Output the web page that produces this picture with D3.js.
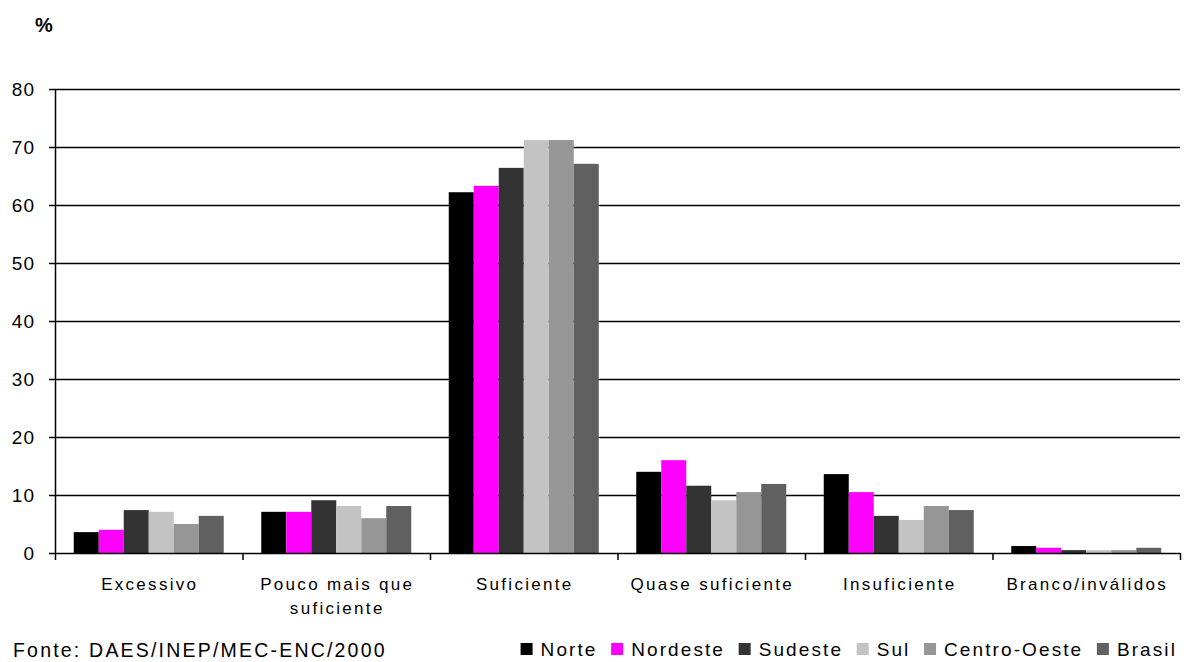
<!DOCTYPE html>
<html>
<head>
<meta charset="utf-8">
<script src="https://cdn.jsdelivr.net/npm/d3@7"></script>
<style>
  html, body { margin: 0; padding: 0; background: #fff; }
  svg { display: block; font-family: "Liberation Sans", Arial, sans-serif; }
</style>
</head>
<body>
<svg id="chart" width="1192" height="662"></svg>
<script>
// Response categories (x axis)
const categories = ["Excessivo", "Pouco mais que suficiente", "Suficiente", "Quase suficiente", "Insuficiente", "Branco/inválidos"];
// Regions (series)
const regions = ["Norte", "Nordeste", "Sudeste", "Sul", "Centro-Oeste", "Brasil"];
const regionColors = ["#000000", "#ff00ff", "#333333", "#c3c3c3", "#969696", "#606060"];
// Percentages per region, in category order
const norte       = [3.6, 7.1, 62.2, 14.0, 13.6, 1.2];
const nordeste    = [4.0, 7.1, 63.3, 16.0, 10.5, 0.9];
const sudeste     = [7.4, 9.1, 66.4, 11.6, 6.4, 0.5];
const sul         = [7.1, 8.1, 71.2, 9.1, 5.7, 0.5];
const centroOeste = [5.0, 6.0, 71.2, 10.5, 8.1, 0.5];
const brasil      = [6.4, 8.1, 67.1, 11.9, 7.4, 0.9];
const seriesValues = [norte, nordeste, sudeste, sul, centroOeste, brasil];
const yTicks = [0, 10, 20, 30, 40, 50, 60, 70, 80];
const sourceNote = "Fonte: DAES/INEP/MEC-ENC/2000";

const svg = d3.select("#chart");
const margin = { left: 55, right: 12, top: 89, bottom: 109 };
const W = 1192, H = 662;
const plotW = W - margin.left - margin.right;
const plotH = H - margin.top - margin.bottom;

const g = svg.append("g").attr("transform", `translate(${margin.left},${margin.top})`);

const x0 = d3.scaleBand().domain(categories).range([0, plotW]).paddingInner(0.2).paddingOuter(0.1);
const x1 = d3.scaleBand().domain(regions).range([0, x0.bandwidth()]);
const y = d3.scaleLinear().domain([0, 80]).range([plotH, 0]);

// Horizontal gridlines
g.append("g").selectAll("line").data(yTicks.filter(t => t > 0)).join("line")
  .attr("x1", 0).attr("x2", plotW)
  .attr("y1", d => y(d) + 0.5).attr("y2", d => y(d) + 0.5)
  .attr("stroke", "#000").attr("stroke-width", 1.3);

// Bars
const groups = g.append("g").selectAll("g").data(categories).join("g")
  .attr("transform", d => `translate(${x0(d)},0)`);
groups.selectAll("rect")
  .data((c, ci) => regions.map((r, ri) => ({ r, ri, v: seriesValues[ri][ci] })))
  .join("rect")
  .attr("x", d => x1(d.r))
  .attr("width", x1.bandwidth())
  .attr("y", d => y(d.v))
  .attr("height", d => y(0) - y(d.v))
  .attr("fill", d => regionColors[d.ri]);

// Y axis
const yAxis = g.append("g")
  .call(d3.axisLeft(y).tickValues(yTicks).tickSize(6).tickPadding(14).tickFormat(d3.format("d")));
yAxis.select(".domain").attr("stroke", "#000").attr("stroke-width", 1.5).attr("d", `M0.5,${plotH}V0`);
yAxis.selectAll(".tick line").attr("stroke", "#000").attr("stroke-width", 1.5);
yAxis.selectAll(".tick text").attr("font-size", 19).attr("letter-spacing", "1px").attr("fill", "#000")
  .attr("font-family", "Liberation Sans, Arial, sans-serif");

// X axis baseline with group separator ticks
const xAxis = g.append("g").attr("transform", `translate(0,${plotH})`);
xAxis.append("line").attr("x1", 0).attr("x2", plotW).attr("y1", 0.5).attr("y2", 0.5)
  .attr("stroke", "#000").attr("stroke-width", 1.6);
const step = x0.step();
const sepTicks = d3.range(categories.length + 1).map(i => x0(categories[0]) - x0.paddingOuter() * step + i * step);
xAxis.selectAll("line.sep").data(sepTicks).join("line").attr("class", "sep")
  .attr("x1", d => d + 0.5).attr("x2", d => d + 0.5).attr("y1", 0).attr("y2", 7)
  .attr("stroke", "#000").attr("stroke-width", 1.5);

// Category labels (wrapped where needed)
const labelLines = { "Pouco mais que suficiente": ["Pouco mais que", "suficiente"] };
categories.forEach(c => {
  const lines = labelLines[c] || [c];
  const cxLabel = x0(c) + x0.bandwidth() / 2 + 1;
  const t = xAxis.append("text")
    .attr("x", cxLabel)
    .attr("y", 37)
    .attr("text-anchor", "middle")
    .attr("font-size", 17)
    .attr("letter-spacing", "2.3px")
    .attr("fill", "#000");
  lines.forEach((l, i) => t.append("tspan").attr("x", cxLabel).attr("dy", i === 0 ? 0 : 24).text(l));
});

// Unit label
svg.append("text").attr("x", 35).attr("y", 32).attr("font-size", 20).attr("font-weight", "bold")
  .attr("fill", "#000").text("%");

// Source note
svg.append("text").attr("x", 13).attr("y", 657).attr("font-size", 19.5).attr("letter-spacing", "2.2px")
  .attr("fill", "#000").text(sourceNote);

// Legend, laid out right-aligned along the bottom
const legend = svg.append("g");
const items = legend.selectAll("g").data(regions).join("g");
items.append("rect").attr("width", 12).attr("height", 12).attr("y", -13)
  .attr("fill", (d, i) => regionColors[i]);
items.append("text").attr("x", 20).attr("font-size", 19).attr("letter-spacing", "2.1px")
  .attr("fill", "#000").text(d => d);
let cx = 0;
const gap = 13.6;
const widths = [];
items.each(function () { widths.push(this.getBBox().width); });
items.attr("transform", (d, i) => { const t = `translate(${cx},0)`; cx += widths[i] + gap; return t; });
const totalW = cx - gap;
legend.attr("transform", `translate(${1177 - totalW},656)`);
</script>
</body>
</html>
